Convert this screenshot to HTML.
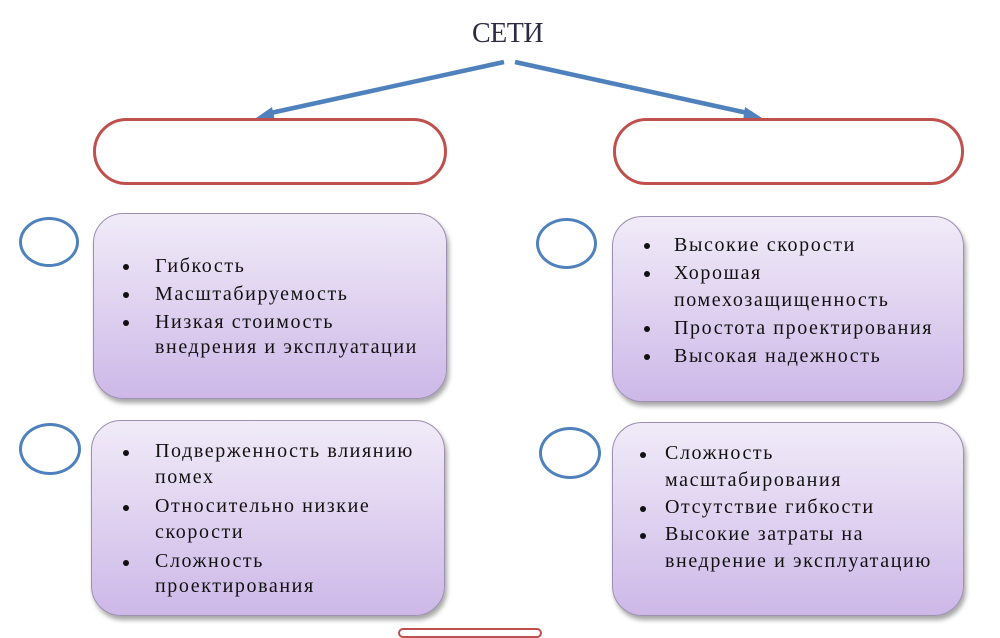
<!DOCTYPE html>
<html><head><meta charset="utf-8"><style>
body{margin:0;width:1000px;height:633px;background:#fff;position:relative;overflow:hidden;font-family:"Liberation Serif",serif;}
.box{position:absolute;border:1.5px solid #9c8fb0;border-radius:30px;background:linear-gradient(#f1ebf8,#cdb8e8);box-shadow:2px 4px 5px rgba(0,0,0,0.35);box-sizing:border-box;}
.circ{position:absolute;border:3px solid #4f81bd;border-radius:50%;box-sizing:border-box;}
.oval{position:absolute;border:3px solid #c0504d;border-radius:34px;box-sizing:border-box;}
.t{position:absolute;font-size:20px;line-height:22px;color:#111;letter-spacing:1.6px;white-space:nowrap;}
.b{position:absolute;width:6px;height:6px;border-radius:50%;background:#111;}
</style></head><body>
<div style="position:absolute;left:472px;top:18px;font-size:28px;color:#2b2b44;letter-spacing:-0.5px">СЕТИ</div>
<svg style="position:absolute;left:0;top:0" width="1000" height="633">
<line x1="504" y1="62" x2="266" y2="114" stroke="#4f81bd" stroke-width="4.5"/>
<polygon points="256,118 272,107 275,121" fill="#4f81bd"/>
<line x1="515" y1="62" x2="752" y2="114" stroke="#4f81bd" stroke-width="4.5"/>
<polygon points="762,118 745,107 743,121" fill="#4f81bd"/>
</svg>
<div class="oval" style="left:93px;top:118px;width:354px;height:67px"></div>
<div class="oval" style="left:613px;top:118px;width:351px;height:67px"></div>
<div class="circ" style="left:19px;top:217px;width:60px;height:50px"></div>
<div class="circ" style="left:536px;top:218px;width:61px;height:51px"></div>
<div class="circ" style="left:19px;top:423px;width:62px;height:52px"></div>
<div class="circ" style="left:539px;top:427px;width:62px;height:52px"></div>
<div class="box" style="left:93px;top:213px;width:354px;height:186px"></div>
<div class="box" style="left:612px;top:216px;width:352px;height:186px"></div>
<div class="box" style="left:91px;top:420px;width:354px;height:196px"></div>
<div class="box" style="left:612px;top:422px;width:352px;height:194px"></div>

<div class="b" style="left:123px;top:264px"></div><div class="t" style="left:155px;top:255px">Гибкость</div>
<div class="b" style="left:123px;top:292px"></div><div class="t" style="left:155px;top:283px">Масштабируемость</div>
<div class="b" style="left:123px;top:320px"></div><div class="t" style="left:155px;top:311px">Низкая стоимость</div>
<div class="t" style="left:155px;top:336px">внедрения и эксплуатации</div>

<div class="b" style="left:644px;top:243px"></div><div class="t" style="left:674px;top:234px">Высокие скорости</div>
<div class="b" style="left:644px;top:271px"></div><div class="t" style="left:674px;top:262px">Хорошая</div>
<div class="t" style="left:674px;top:289px">помехозащищенность</div>
<div class="b" style="left:644px;top:326px"></div><div class="t" style="left:674px;top:317px">Простота проектирования</div>
<div class="b" style="left:644px;top:354px"></div><div class="t" style="left:674px;top:345px">Высокая надежность</div>

<div class="b" style="left:123px;top:450px"></div><div class="t" style="left:155px;top:440px">Подверженность влиянию</div>
<div class="t" style="left:155px;top:466px">помех</div>
<div class="b" style="left:123px;top:505px"></div><div class="t" style="left:155px;top:495px">Относительно низкие</div>
<div class="t" style="left:155px;top:521px">скорости</div>
<div class="b" style="left:123px;top:560px"></div><div class="t" style="left:155px;top:550px">Сложность</div>
<div class="t" style="left:155px;top:575px">проектирования</div>

<div class="b" style="left:640px;top:452px"></div><div class="t" style="left:665px;top:442px">Сложность</div>
<div class="t" style="left:665px;top:469px">масштабирования</div>
<div class="b" style="left:640px;top:506px"></div><div class="t" style="left:665px;top:496px">Отсутствие гибкости</div>
<div class="b" style="left:640px;top:533px"></div><div class="t" style="left:665px;top:523px">Высокие затраты на</div>
<div class="t" style="left:665px;top:550px">внедрение и эксплуатацию</div>

<div style="position:absolute;left:398px;top:628px;width:144px;height:10px;border:2px solid #c0504d;border-radius:6px;box-sizing:border-box"></div>
</body></html>
